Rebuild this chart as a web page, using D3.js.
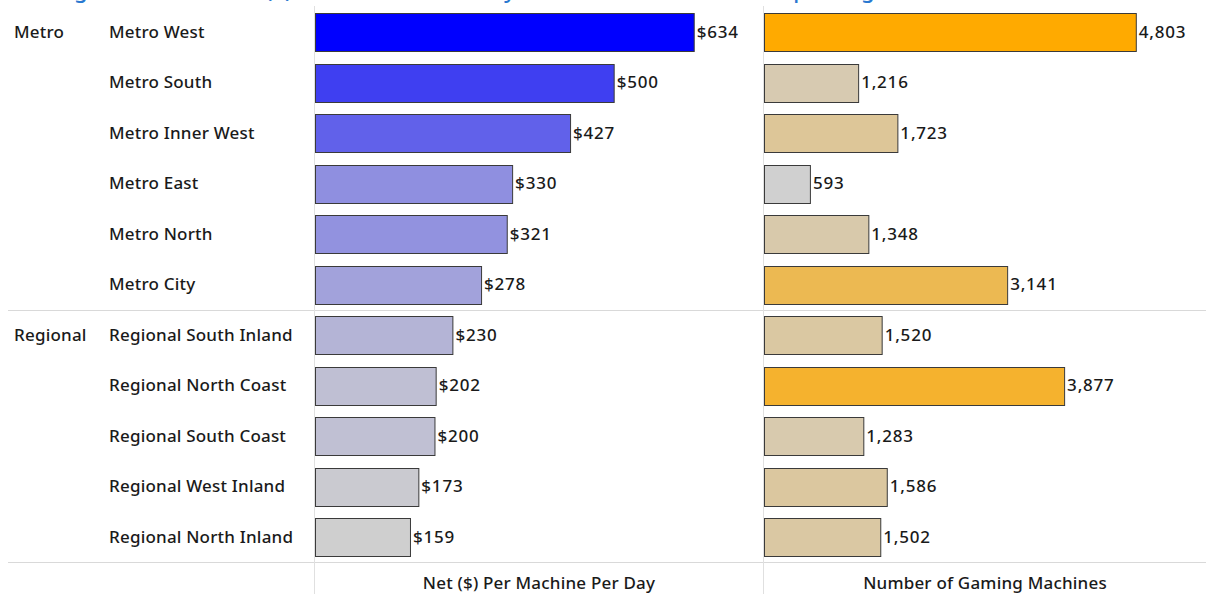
<!DOCTYPE html>
<html>
<head>
<meta charset="utf-8">
<script src="https://cdn.jsdelivr.net/npm/d3@7"></script>
<style>
    body { margin: 0; background: #fff; }
    text { font-family: "Noto Sans", sans-serif; fill: #1a1a1a; font-weight: 500; }
</style>
</head>
<body>
<script>
//chart values
var groups = ["Metro", "Metro", "Metro", "Metro", "Metro", "Metro",
    "Regional", "Regional", "Regional", "Regional", "Regional"];
var regions = ["Metro West", "Metro South", "Metro Inner West", "Metro East", "Metro North", "Metro City",
    "Regional South Inland", "Regional North Coast", "Regional South Coast", "Regional West Inland", "Regional North Inland"];
var netPerDay = [634, 500, 427, 330, 321, 278, 230, 202, 200, 173, 159];
var machines = [4803, 1216, 1723, 593, 1348, 3141, 1520, 3877, 1283, 1586, 1502];
var axisTitles = ["Net ($) Per Machine Per Day", "Number of Gaming Machines"];

window.onload = drawChart();

function drawChart(){
    var width = 1206,
        height = 594;

    var svg = d3.select("body")
        .append("svg")
        .attr("width", width)
        .attr("height", height);

    //title is cut off at the top of the frame, only descenders show
    svg.append("text")
        .attr("x", 14)
        .attr("y", -2)
        .style("fill", "#2a78d0")
        .style("font-size", "22px")
        .text("Average Club Hotel Net ($) Per Machine Per Day and Number of Machines per Region");

    //row scale
    var y = d3.scaleBand()
        .domain(regions)
        .range([7, 562])
        .paddingInner(0.25)
        .paddingOuter(0.12);

    //panel scales
    var xNet = d3.scaleLinear().domain([0, 750]).range([315, 763]);
    var xMac = d3.scaleLinear().domain([0, 5710]).range([764, 1206]);

    var netColor = d3.scaleLinear()
        .domain([159, 330, 634])
        .range(["#cfcfcf", "#8f8fe0", "#0000ff"]);
    var macColor = d3.scaleLinear()
        .domain([d3.min(machines), d3.max(machines)])
        .range(["#d0d0d0", "#ffaa00"]);

    //grid lines
    var step = y.step();
    var firstRegional = groups.indexOf("Regional");
    var sepY = Math.round(y(regions[firstRegional]) - step * y.paddingInner() / 2) + 0.5;

    svg.append("line")
        .attr("x1", 8).attr("x2", width)
        .attr("y1", sepY).attr("y2", sepY)
        .style("stroke", "#d9d9d9");
    svg.append("line")
        .attr("x1", 8).attr("x2", width)
        .attr("y1", 562.5).attr("y2", 562.5)
        .style("stroke", "#d9d9d9");
    [314.5, 763.5].forEach(function(x){
        svg.append("line")
            .attr("x1", x).attr("x2", x)
            .attr("y1", 6).attr("y2", height)
            .style("stroke", "#e0e0e0");
    });

    //group labels
    var groupNames = ["Metro", "Regional"];
    svg.selectAll(".groupLabel")
        .data(groupNames)
        .enter()
        .append("text")
        .attr("class", "groupLabel")
        .attr("x", 14)
        .attr("y", function(d){ return y(regions[groups.indexOf(d)]) + y.bandwidth() / 2; })
        .attr("dy", "0.35em")
        .style("font-size", "17px")
        .style("letter-spacing", "0.2px")
        .text(function(d){ return d; });

    //region labels
    svg.selectAll(".regionLabel")
        .data(regions)
        .enter()
        .append("text")
        .attr("class", "regionLabel")
        .attr("x", 109)
        .attr("y", function(d){ return y(d) + y.bandwidth() / 2; })
        .attr("dy", "0.35em")
        .style("font-size", "17px")
        .style("letter-spacing", "0.2px")
        .text(function(d){ return d; });

    //net per machine bars
    svg.selectAll(".netBar")
        .data(netPerDay)
        .enter()
        .append("rect")
        .attr("class", "netBar")
        .attr("x", xNet(0) + 0.5)
        .attr("y", function(d, i){ return Math.round(y(regions[i])) + 0.5; })
        .attr("width", function(d){ return xNet(d) - xNet(0); })
        .attr("height", Math.round(y.bandwidth()))
        .style("fill", function(d){ return netColor(d); })
        .style("stroke", "#3a3a3a");

    svg.selectAll(".netLabel")
        .data(netPerDay)
        .enter()
        .append("text")
        .attr("class", "netLabel")
        .attr("x", function(d){ return xNet(d) + 3; })
        .attr("y", function(d, i){ return y(regions[i]) + y.bandwidth() / 2; })
        .attr("dy", "0.35em")
        .style("font-size", "17px")
        .style("letter-spacing", "0.8px")
        .text(function(d){ return "$" + d3.format(",")(d); });

    //machine count bars
    svg.selectAll(".macBar")
        .data(machines)
        .enter()
        .append("rect")
        .attr("class", "macBar")
        .attr("x", xMac(0) + 0.5)
        .attr("y", function(d, i){ return Math.round(y(regions[i])) + 0.5; })
        .attr("width", function(d){ return xMac(d) - xMac(0); })
        .attr("height", Math.round(y.bandwidth()))
        .style("fill", function(d){ return macColor(d); })
        .style("stroke", "#3a3a3a");

    svg.selectAll(".macLabel")
        .data(machines)
        .enter()
        .append("text")
        .attr("class", "macLabel")
        .attr("x", function(d){ return xMac(d) + 3; })
        .attr("y", function(d, i){ return y(regions[i]) + y.bandwidth() / 2; })
        .attr("dy", "0.35em")
        .style("font-size", "17px")
        .style("letter-spacing", "0.8px")
        .text(function(d){ return d3.format(",")(d); });

    //axis titles
    svg.selectAll(".axisTitle")
        .data(axisTitles)
        .enter()
        .append("text")
        .attr("class", "axisTitle")
        .attr("x", function(d, i){
            var r = i == 0 ? xNet.range() : xMac.range();
            return (r[0] + r[1]) / 2;
        })
        .attr("y", 583)
        .attr("dy", "0.35em")
        .attr("text-anchor", "middle")
        .style("font-size", "17px")
        .style("letter-spacing", "0.2px")
        .text(function(d){ return d; });
}
</script>
</body>
</html>
